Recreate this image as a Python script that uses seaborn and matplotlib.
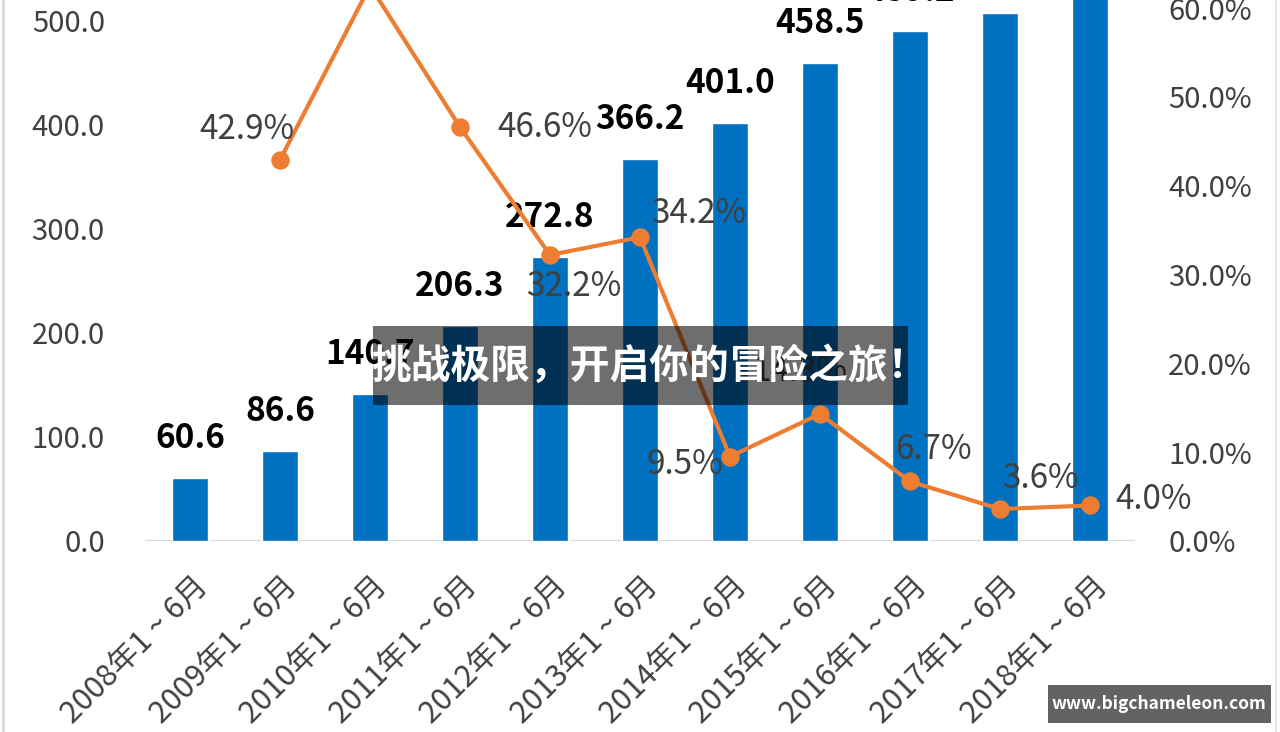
import pandas as pd
import seaborn as sns
import matplotlib.pyplot as plt
from matplotlib.patches import Rectangle
from matplotlib.lines import Line2D
from matplotlib.transforms import ScaledTranslation

years = ["2008", "2009", "2010", "2011", "2012", "2013", "2014", "2015", "2016", "2017", "2018"]
periods = [f"{y}年1 ~ 6月" for y in years]
values = [60.6, 86.6, 140.7, 206.3, 272.8, 366.2, 401.0, 458.5, 489.2, 506.8, 527.1]
growth_periods = periods[1:]
growth = [42.9, 62.5, 46.6, 32.2, 34.2, 9.5, 14.3, 6.7, 3.6, 4.0]
# where each growth label sits relative to its point (pixels right, pixels down)
growth_offsets = [(-33, -30), (85, 1), (85, 0), (24, 32), (59, -24), (-45, 8),
                  (-20, -42), (23, -32), (40, -31), (64, -6)]

sns.set_theme(style="white")
plt.rcParams["font.family"] = ["Noto Sans CJK SC", "DejaVu Sans"]

blue = "#0070C0"
orange = "#ED7D31"
grey = "#404040"

fig = plt.figure(figsize=(12.8, 7.32), dpi=100)
# axes runs past the top of the figure, the source picture is cropped there
ax = fig.add_axes([145 / 1280, 191 / 732, 990 / 1280, 625.2 / 732])

df = pd.DataFrame({"period": periods, "value": values})
sns.barplot(data=df, x="period", y="value", color=blue, saturation=1,
            width=0.39, ax=ax, zorder=2)
ax.axhline(0, color="#D9D9D9", lw=1.5, zorder=1)
ax.set_ylim(0, 600)
ax.set_yticks(range(0, 700, 100))
ax.set_yticklabels([f"{v:.1f}" for v in range(0, 700, 100)])

for i, v in enumerate(values):
    ax.annotate(f"{v:.1f}", (i, v), xytext=(0, 30), textcoords="offset pixels",
                ha="center", va="baseline", fontsize=24, fontweight="bold",
                color="black", zorder=5)

ax2 = ax.twinx()
sns.pointplot(x=growth_periods, y=growth, order=periods, color=orange,
              markersize=11, linewidth=3, errorbar=None, ax=ax2)
ax2.set_ylim(0, 70.38)
ax2.set_yticks(range(0, 80, 10))
ax2.set_yticklabels([f"{v:.1f}%" for v in range(0, 80, 10)])

for p, g, (dx, dy) in zip(growth_periods, growth, growth_offsets):
    ax2.annotate(f"{g:.1f}%", (periods.index(p), g), xytext=(dx, -dy),
                 textcoords="offset pixels", ha="center", va="center",
                 fontsize=24, color=grey)

for a in (ax, ax2):
    for s in a.spines.values():
        s.set_visible(False)
    a.set_xlabel("")
    a.set_ylabel("")
    a.grid(False)

ax.set_xticks(range(len(periods)))
ax.set_xticklabels(periods, rotation=45, ha="right", va="top",
                   rotation_mode="anchor", fontsize=22, color=grey)
ax.tick_params(axis="x", pad=21, length=0)
ax.tick_params(axis="y", pad=29, length=0, labelsize=21, labelcolor=grey)
ax2.tick_params(axis="y", pad=24, length=0, labelsize=21, labelcolor=grey)
shift = ScaledTranslation(2 / 100, 0, fig.dpi_scale_trans)
for lab in ax.get_xticklabels():
    lab.set_transform(lab.get_transform() + shift)

# chart frame edges
fig.add_artist(Line2D([3 / 1280, 3 / 1280], [0, 1], color="#D9D9D9", lw=2))
fig.add_artist(Line2D([1276 / 1280, 1276 / 1280], [0, 1], color="#E6E6E6", lw=1.5))

# overlay banner
fig.add_artist(Rectangle((373 / 1280, 327 / 732), 535 / 1280, 79 / 732,
                         transform=fig.transFigure, color="black", alpha=0.57,
                         lw=0, zorder=10))
fig.text(649 / 1280, 366 / 732, "挑战极限，开启你的冒险之旅！", ha="center",
         va="center", fontsize=28.6, fontweight="bold", color="white", zorder=11)

# site badge
fig.add_artist(Rectangle((1048 / 1280, 9 / 732), 223 / 1280, 38 / 732,
                         transform=fig.transFigure, color="#636363", lw=0,
                         zorder=10))
fig.text(1159 / 1280, 28 / 732, "www.bigchameleon.com", ha="center",
         va="center", fontsize=12.5, fontweight="bold", color="white", zorder=11)

fig.savefig("out.png", dpi=100)
